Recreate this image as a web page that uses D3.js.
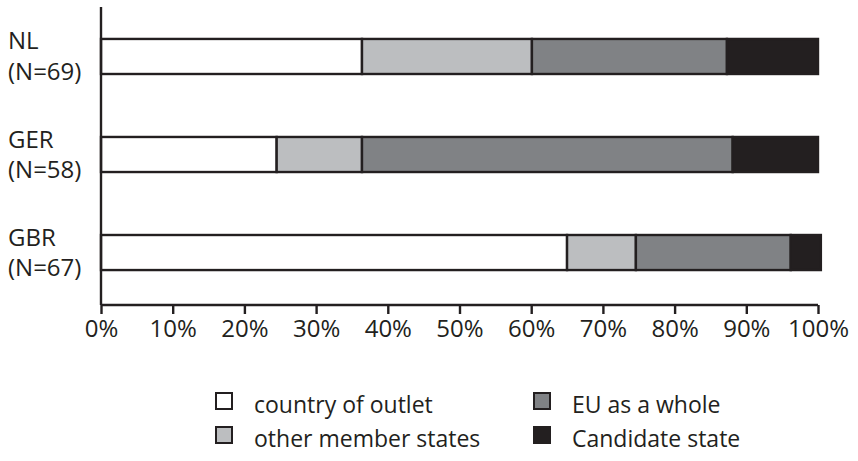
<!DOCTYPE html>
<html>
<head>
<meta charset="utf-8">
<script src="https://cdn.jsdelivr.net/npm/d3@7"></script>
<style>
  body { margin: 0; background: #fff; }
  text { font-family: "Open Sans", sans-serif; fill: #231f20; }
</style>
</head>
<body>
<svg id="chart" width="858" height="461"></svg>
<script>
var countries = ["NL", "GER", "GBR"],
    counts = ["(N=69)", "(N=58)", "(N=67)"],
    seriesNames = ["country of outlet", "other member states", "EU as a whole", "Candidate state"],
    outlet = [36.4, 24.5, 65.0],
    otherStates = [23.7, 11.9, 9.6],
    euWhole = [27.2, 51.7, 21.6],
    candidate = [12.7, 11.9, 4.2],
    tickValues = [0, 10, 20, 30, 40, 50, 60, 70, 80, 90, 100];

var colors = ["#ffffff", "#bcbec0", "#808285", "#231f20"];
var ink = "#231f20";

var svg = d3.select("#chart");

var x = d3.scaleLinear().domain([0, 100]).range([101, 818]),
    y = d3.scaleBand().domain(countries).range([5.5, 303.5]).paddingInner(0.622).paddingOuter(0.331);

var rows = countries.map(function(c, i) {
  return {country: c, s0: outlet[i], s1: otherStates[i], s2: euWhole[i], s3: candidate[i]};
});
var stack = d3.stack().keys(["s0", "s1", "s2", "s3"])(rows);

// bars
svg.append("g").selectAll("g")
  .data(stack)
  .enter().append("g")
    .attr("fill", function(d, i) { return colors[i]; })
  .selectAll("rect")
  .data(function(d) { return d; })
  .enter().append("rect")
    .attr("x", function(d) { return x(d[0]); })
    .attr("y", function(d) { return y(d.data.country) + 1; })
    .attr("width", function(d) { return x(d[1]) - x(d[0]); })
    .attr("height", y.bandwidth() - 2)
    .attr("stroke", ink)
    .attr("stroke-width", 2.4);

// y axis line
svg.append("line")
    .attr("x1", 101).attr("x2", 101)
    .attr("y1", 7).attr("y2", 305)
    .attr("stroke", ink).attr("stroke-width", 2.4);

// x axis
var xAxis = svg.append("g")
    .attr("transform", "translate(0,305)")
    .call(d3.axisBottom(x).tickValues(tickValues).tickSize(9).tickPadding(6)
      .tickFormat(function(d) { return d + "%"; }));
xAxis.select(".domain").attr("stroke", ink).attr("stroke-width", 2.4)
    .attr("d", "M" + x(0) + ",0H" + x(100));
xAxis.selectAll(".tick line").attr("stroke", ink).attr("stroke-width", 2.4);
xAxis.selectAll(".tick text")
    .style("font-family", "'Open Sans', sans-serif")
    .style("font-size", "24px")
    .attr("fill", ink);

// category labels
var labels = svg.append("g").selectAll("text")
  .data(countries)
  .enter().append("text")
    .attr("x", 8)
    .style("font-size", "24px");
labels.append("tspan")
    .attr("x", 8)
    .attr("y", function(d) { return y(d) + y.bandwidth() / 2 - 7; })
    .text(function(d) { return d; });
labels.append("tspan")
    .attr("x", 8)
    .attr("y", function(d) { return y(d) + y.bandwidth() / 2 + 23.5; })
    .text(function(d, i) { return counts[i]; });

// legend
var legendPos = [[215, 392], [215, 426], [533, 392], [533, 426]];
var legendOrder = [0, 1, 2, 3];
var legend = svg.append("g").selectAll("g")
  .data(legendOrder)
  .enter().append("g")
    .attr("transform", function(d) { return "translate(" + legendPos[d][0] + "," + legendPos[d][1] + ")"; });
legend.append("rect")
    .attr("x", 1).attr("y", 1)
    .attr("width", 16).attr("height", 16)
    .attr("fill", function(d) { return colors[d]; })
    .attr("stroke", ink)
    .attr("stroke-width", 2);
legend.append("text")
    .attr("x", 39)
    .attr("y", 21)
    .style("font-size", "23px")
    .text(function(d) { return seriesNames[d]; });
</script>
</body>
</html>
